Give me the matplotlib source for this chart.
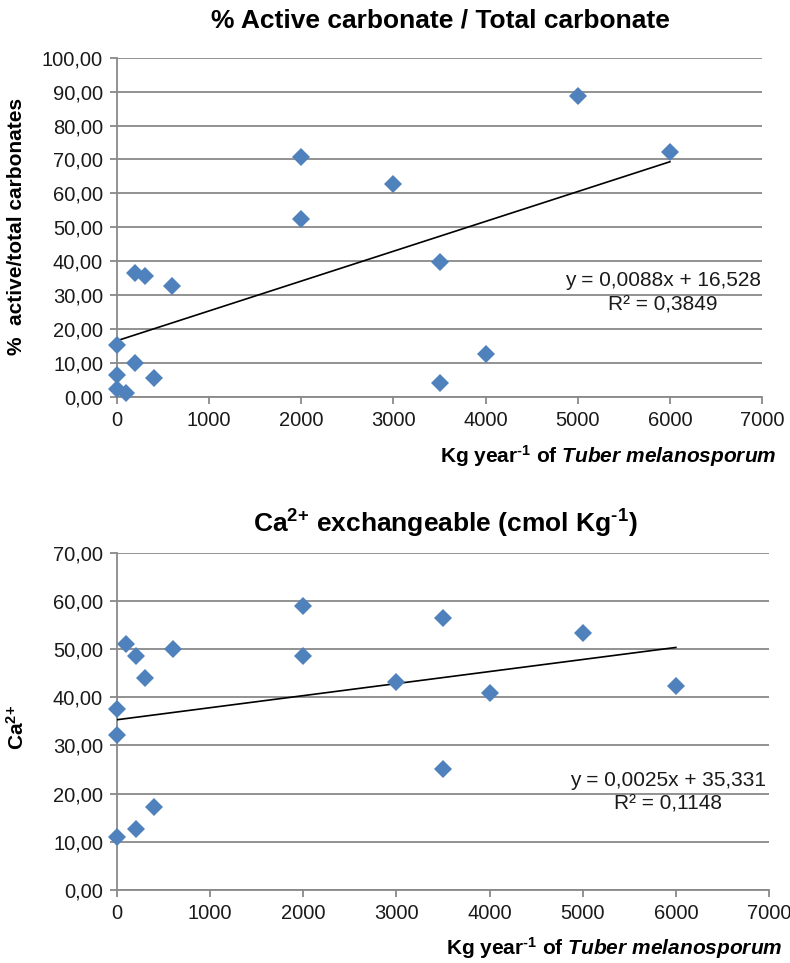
import matplotlib
matplotlib.use('Agg')
import matplotlib.pyplot as plt
from matplotlib.ticker import FuncFormatter, MultipleLocator
import numpy as np

plt.rcParams['font.family'] = ['Liberation Sans', 'DejaVu Sans']
plt.rcParams['mathtext.fontset'] = 'custom'
plt.rcParams['mathtext.rm'] = 'Liberation Sans:bold'
plt.rcParams['mathtext.bf'] = 'Liberation Sans:bold'
plt.rcParams['mathtext.it'] = 'Liberation Sans:bold:italic'

# truffle yield (kg/year) per plot and % active / total carbonate
kg_carb = [0, 0, 0, 100, 200, 200, 300, 400, 600, 2000, 2000, 3000, 3500, 3500, 4000, 5000, 6000]
pct_active = [15.2, 6.5, 2.4, 1.0, 36.4, 10.1, 35.5, 5.6, 32.6, 70.6, 52.5, 62.7, 39.9, 4.0, 12.7, 88.8, 72.1]

# truffle yield (kg/year) per plot and exchangeable Ca2+ (cmol/kg)
kg_ca = [0, 0, 0, 100, 200, 200, 300, 400, 600, 2000, 2000, 3000, 3500, 3500, 4000, 5000, 6000]
ca_exch = [37.6, 32.2, 11.1, 51.0, 48.5, 12.7, 43.9, 17.3, 50.1, 58.9, 48.5, 43.1, 56.5, 25.2, 40.9, 53.3, 42.4]

# linear trendlines: slope, intercept, R2
carb_fit = (0.0088, 16.528, 0.3849)
ca_fit = (0.0025, 35.331, 0.1148)

BLUE = '#4F81BD'
GRID = '#898989'
HY = '\u2010'   # short hyphen for the superscripts


def comma2(v, pos):
    return '{:.2f}'.format(v).replace('.', ',')


def style_axes(ax, ymax, ystep):
    ax.set_xlim(0, 7000)
    ax.set_ylim(0, ymax)
    ax.xaxis.set_major_locator(MultipleLocator(1000))
    ax.yaxis.set_major_locator(MultipleLocator(ystep))
    ax.yaxis.set_major_formatter(FuncFormatter(comma2))
    for s in ['top', 'right']:
        ax.spines[s].set_visible(False)
    for s in ['left', 'bottom']:
        ax.spines[s].set_color(GRID)
        ax.spines[s].set_linewidth(1.3)
    ax.grid(axis='y', color=GRID, linewidth=1.3)
    ax.set_axisbelow(True)
    ax.tick_params(length=5, width=1.3, color=GRID, labelsize=14.5,
                   labelcolor='#1a1a1a', pad=5)


def draw_panel(ax, xs, ys, fit, txt_xy):
    slope, icpt, r2 = fit
    xl = np.array([min(xs), max(xs)])
    ax.plot(xl, slope * xl + icpt, color='black', lw=1.2, zorder=3)
    ax.plot(xs, ys, 'D', color=BLUE, ms=9.2, mew=0, clip_on=False, zorder=4)
    eq = 'y = {}x + {}\nR² = {}'.format(str(slope).replace('.', ','),
                                        str(icpt).replace('.', ','),
                                        str(r2).replace('.', ','))
    ax.text(txt_xy[0], txt_xy[1], eq, ha='center', va='center',
            multialignment='center', fontsize=15, color='#1a1a1a',
            linespacing=1.35, zorder=5)


fig = plt.figure(figsize=(7.9, 9.63), dpi=100)

ax1 = fig.add_axes([0.1481, 0.5880, 0.8165, 0.3520])
style_axes(ax1, 100, 10)
draw_panel(ax1, kg_carb, pct_active, carb_fit, (5925, 30.6))

ax2 = fig.add_axes([0.1481, 0.0758, 0.8253, 0.3503])
style_axes(ax2, 70, 10)
draw_panel(ax2, kg_ca, ca_exch, ca_fit, (5916, 20.3))

# titles and axis labels
fig.text(440 / 790, 1 - 20 / 963, '% Active carbonate / Total carbonate',
         ha='center', va='center', fontsize=19, fontweight='bold')
fig.text(445 / 790, 1 - 524 / 963,
         r'Ca$^{2{+}}$ exchangeable (cmol Kg$^{' + HY + '1}$)',
         ha='center', va='center', fontsize=19, fontweight='bold')

xlab = r'Kg year$^{' + HY + r'1}$ of $\mathit{Tuber\ melanosporum}$'
fig.text(777 / 790, 1 - 456 / 963, xlab, ha='right', va='center',
         fontsize=15, fontweight='bold')
fig.text(783 / 790, 1 - 948 / 963, xlab, ha='right', va='center',
         fontsize=15, fontweight='bold')

fig.text(17 / 790, 1 - 226 / 963, '%  active/total carbonates', rotation=90,
         ha='center', va='center', fontsize=15, fontweight='bold')
fig.text(17 / 790, 1 - 727 / 963, r'Ca$^{2{+}}$', rotation=90,
         ha='center', va='center', fontsize=15, fontweight='bold')

fig.savefig('out.png', dpi=100, facecolor='white')
